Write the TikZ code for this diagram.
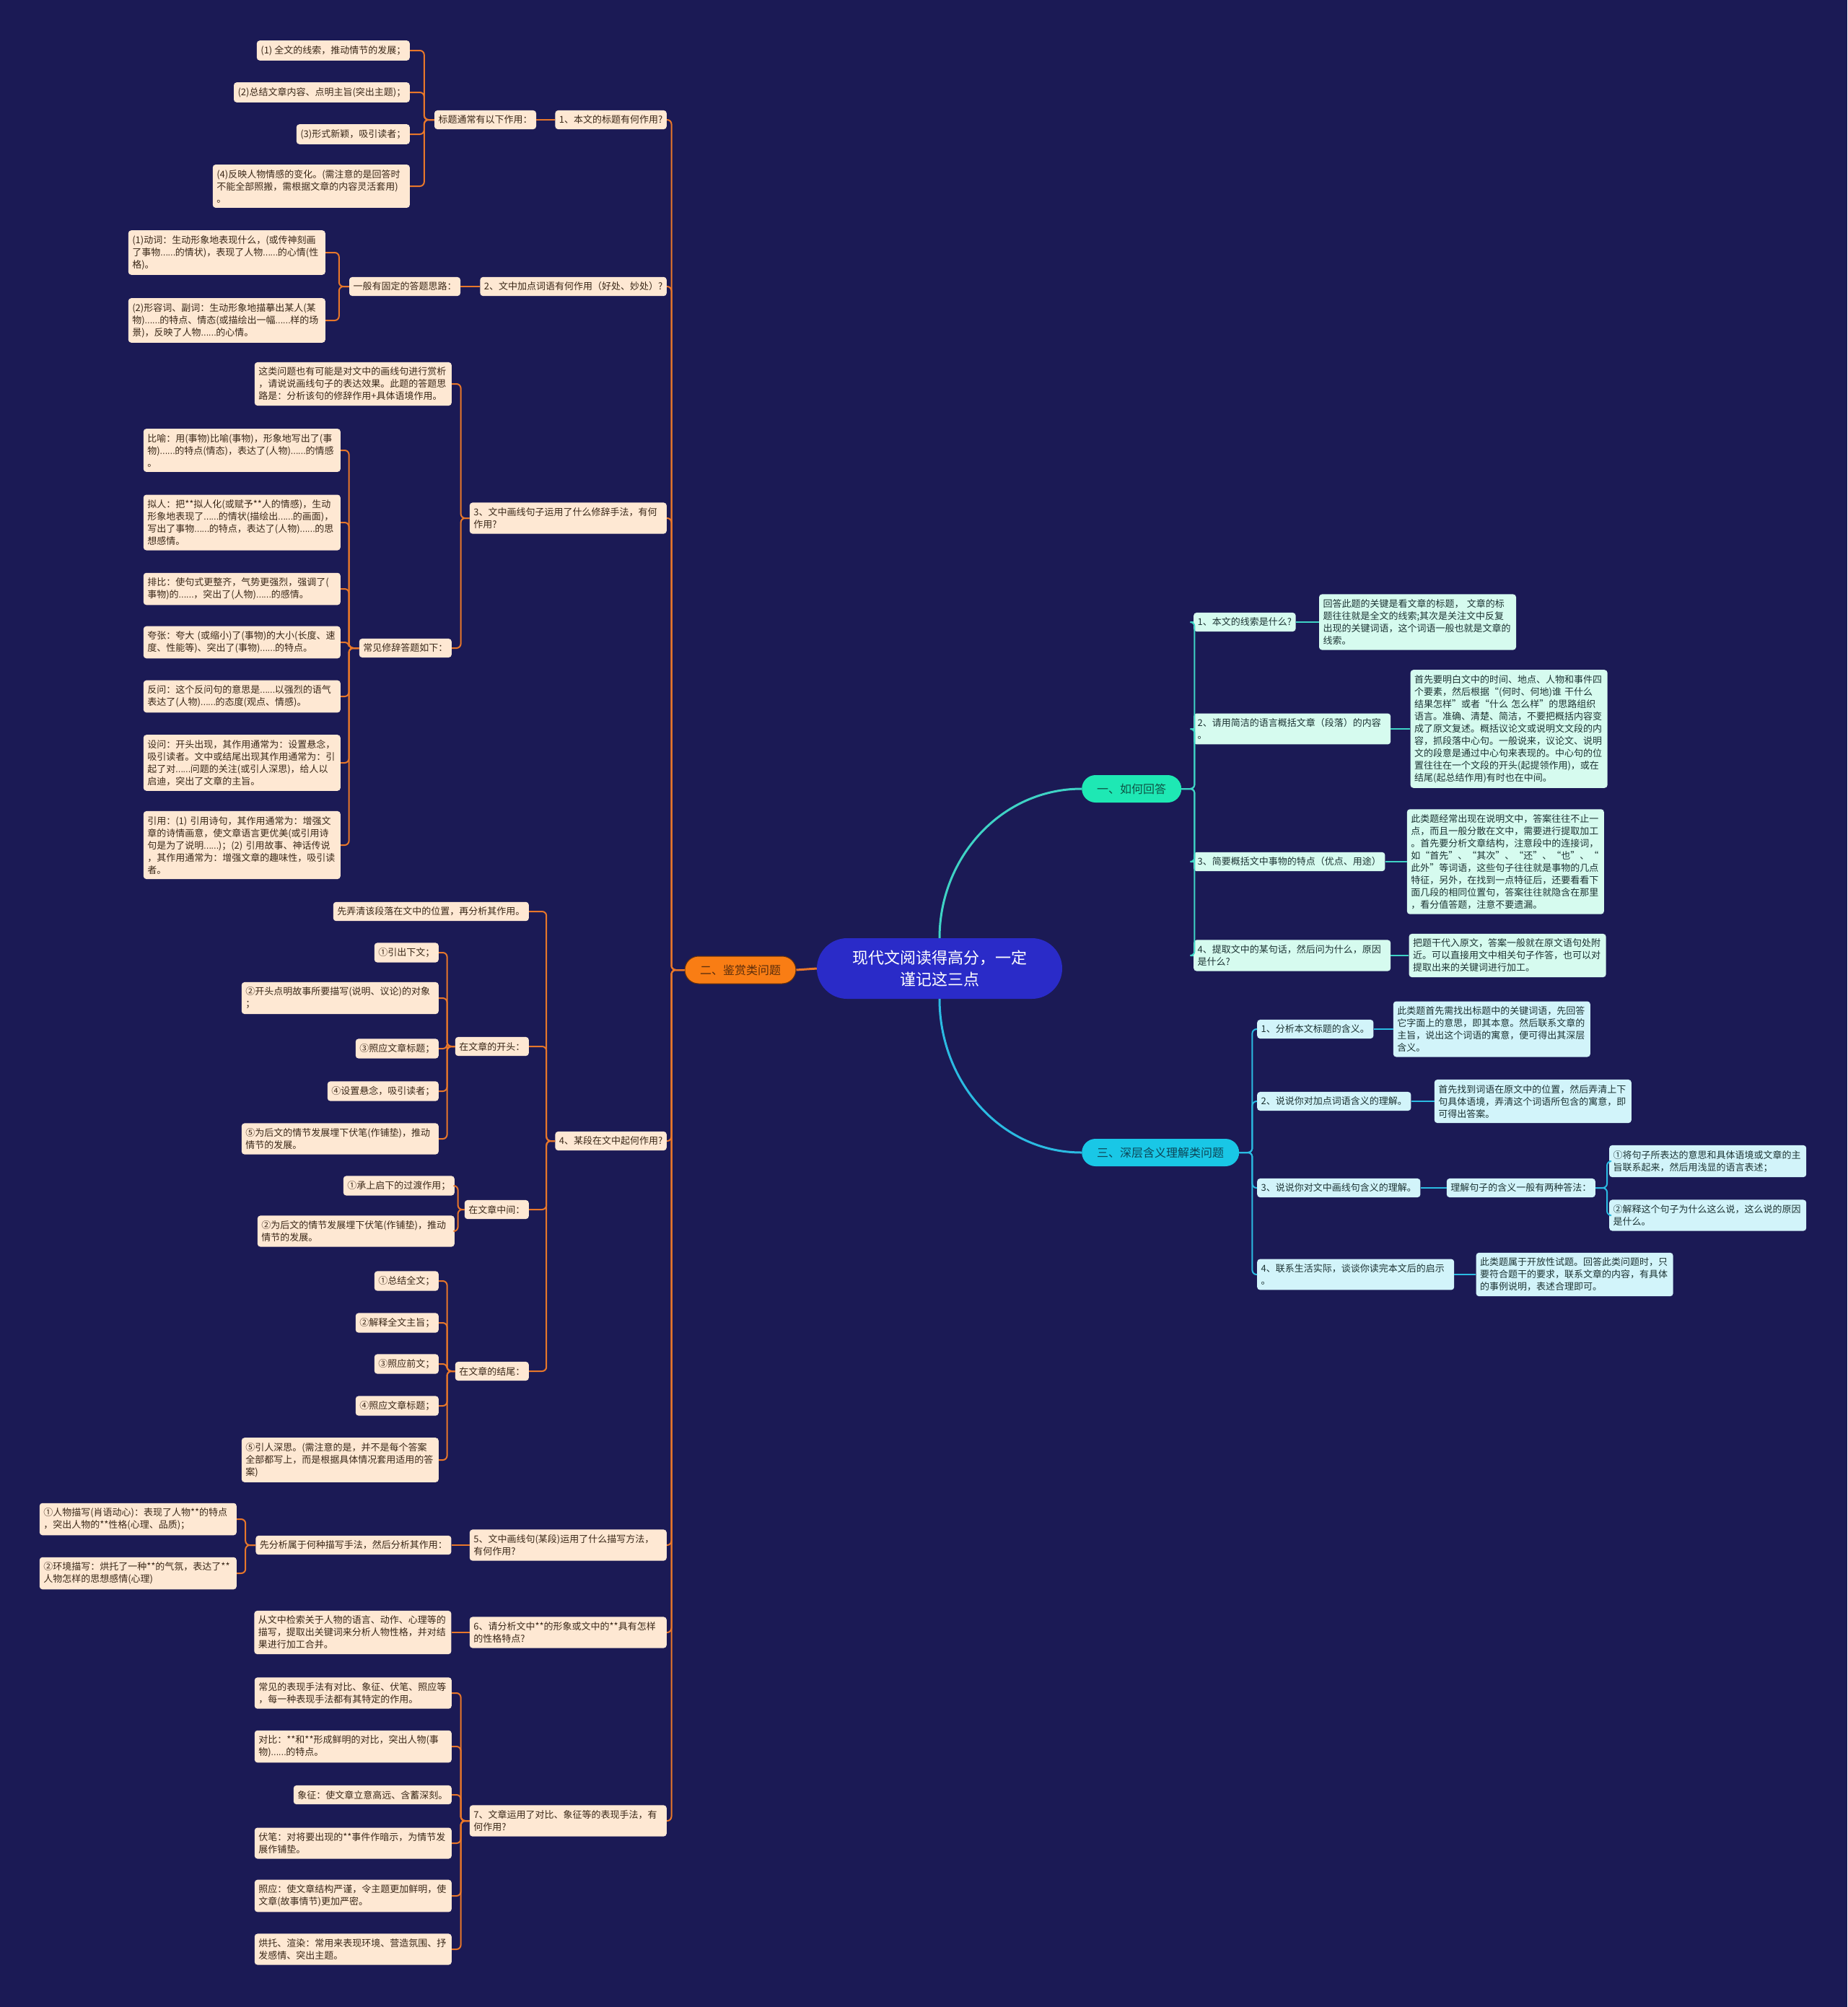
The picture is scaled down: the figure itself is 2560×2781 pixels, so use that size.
\documentclass[tikz,border=0pt]{standalone}
\usepackage{fontspec}
\setmainfont{Noto Sans CJK SC}
\usepackage{xcolor}
\usepackage{graphicx}
\usetikzlibrary{positioning}

\definecolor{bgnavy}{HTML}{1B1A55}
\definecolor{rootfill}{HTML}{2A2BC8}
\definecolor{orgfill}{HTML}{F97D14}
\definecolor{orgedge}{HTML}{6A3208}
\definecolor{orgtx}{HTML}{5A2D0C}
\definecolor{orgln}{HTML}{E8772A}
\definecolor{peach}{HTML}{FEE8D3}
\definecolor{leaftx}{HTML}{3A2818}
\definecolor{mintfill}{HTML}{1EE8B4}
\definecolor{minttx}{HTML}{0E5546}
\definecolor{mintln}{HTML}{3FD3C5}
\definecolor{mintleaf}{HTML}{D6FBEF}
\definecolor{cyanfill}{HTML}{19C7E6}
\definecolor{cyantx}{HTML}{0D4658}
\definecolor{cyanln}{HTML}{2BBBE2}
\definecolor{cyanleaf}{HTML}{D2F4FA}
\definecolor{righttx}{HTML}{1C3333}

% narrow ellipsis
\newcommand{\eli}{\scalebox{0.75}[1]{……}}

\tikzset{
  lk/.style={rounded corners=6pt, to path={-- ++(-#1,0) |- (\tikztotarget)}},
  lk/.default=14pt,
  rk/.style={rounded corners=6pt, to path={-- ++(#1,0) |- (\tikztotarget)}},
  rk/.default=18pt,
  leaf/.style={rounded corners=4pt, inner xsep=5.5pt, inner ysep=7pt, align=left,
    font=\fontsize{13}{17}\selectfont},
  wide/.style={text width=262pt},
  ll/.style={leaf, fill=peach, text=leaftx, anchor=east},
  rl/.style={leaf, fill=mintleaf, text=righttx, anchor=west},
  cl/.style={leaf, fill=cyanleaf, text=righttx, anchor=west},
  lvone/.style={rounded corners=19pt, minimum height=38pt, inner xsep=21pt,
    font=\fontsize{16}{20}\selectfont},
  root/.style={fill=rootfill, text=white, rounded corners=42pt, minimum width=340pt,
    minimum height=84pt, align=center, font=\fontsize{22}{30}\selectfont},
  oln/.style={draw=orgln, line width=2pt},
  mln/.style={draw=mintln, line width=2pt},
  cln/.style={draw=cyanln, line width=2pt},
}

\begin{document}
\begin{tikzpicture}[x=1pt,y=-1pt]
\fill[bgnavy] (0,0) rectangle (2560,2781);
\useasboundingbox (0,0) rectangle (2560,2781);

% centre and first level
\node[root] (root) at (1302,1342) {现代文阅读得高分，一定\\谨记这三点};
\node[lvone, fill=mintfill, text=minttx, anchor=west] (one) at (1499,1093) {一、如何回答};
\node[lvone, fill=orgfill, text=orgtx, draw=orgedge, line width=1pt] (two) at (1026,1344) {二、鉴赏类问题};
\node[lvone, fill=cyanfill, text=cyantx, anchor=west] (three) at (1499,1597) {三、深层含义理解类问题};

% 二 questions
\node[ll] (q1) at (924,166) {1、本文的标题有何作用?};
\node[ll] (q2) at (924,397) {2、文中加点词语有何作用（好处、妙处）?};
\node[ll, wide] (q3) at (924,718) {3、文中画线句子运用了什么修辞手法，有何\\作用?};
\node[ll] (q4) at (924,1581) {4、某段在文中起何作用?};
\node[ll, wide] (q5) at (924,2141) {5、文中画线句(某段)运用了什么描写方法，\\有何作用?};
\node[ll, wide] (q6) at (924,2262) {6、请分析文中**的形象或文中的**具有怎样\\的性格特点?};
\node[ll, wide] (q7) at (924,2523) {7、文章运用了对比、象征等的表现手法，有\\何作用?};

% q1
\node[ll, left=26pt of q1] (t0) {标题通常有以下作用：};
\node[ll] (t1) at (568,70) {(1) 全文的线索，推动情节的发展；};
\node[ll] (t2) at (568,128) {(2)总结文章内容、点明主旨(突出主题)；};
\node[ll] (t3) at (568,186) {(3)形式新颖，吸引读者；};
\node[ll, wide] (t4) at (568,258) {(4)反映人物情感的变化。(需注意的是回答时\\不能全部照搬，需根据文章的内容灵活套用)\\。};

% q2
\node[ll, left=27pt of q2] (g0) {一般有固定的答题思路：};
\node[ll, wide] (g1) at (451,350) {(1)动词：生动形象地表现什么，(或传神刻画\\了事物\eli 的情状)，表现了人物\eli 的心情(性\\格)。};
\node[ll, wide] (g2) at (451,444) {(2)形容词、副词：生动形象地描摹出某人(某\\物)\eli 的特点、情态(或描绘出一幅\eli 样的场\\景)，反映了人物\eli 的心情。};

% q3
\node[ll, wide] (x0) at (626,532) {这类问题也有可能是对文中的画线句进行赏析\\，请说说画线句子的表达效果。此题的答题思\\路是：分析该句的修辞作用+具体语境作用。};
\node[ll] (x1) at (626,898) {常见修辞答题如下：};
\node[ll, wide] (x2) at (472,624) {比喻：用(事物)比喻(事物)，形象地写出了(事\\物)\eli 的特点(情态)，表达了(人物)\eli 的情感\\。};
\node[ll, wide] (x3) at (472,724) {拟人：把**拟人化(或赋予**人的情感)，生动\\形象地表现了\eli 的情状(描绘出\eli 的画面)，\\写出了事物\eli 的特点，表达了(人物)\eli 的思\\想感情。};
\node[ll, wide] (x4) at (472,816) {排比：使句式更整齐，气势更强烈，强调了(\\事物)的\eli ，突出了(人物)\eli 的感情。};
\node[ll, wide] (x5) at (472,890) {夸张：夸大 (或缩小)了(事物)的大小(长度、速\\度、性能等)、突出了(事物)\eli 的特点。};
\node[ll, wide] (x6) at (472,965) {反问：这个反问句的意思是\eli 以强烈的语气\\表达了(人物)\eli 的态度(观点、情感)。};
\node[ll, wide] (x7) at (472,1057) {设问：开头出现，其作用通常为：设置悬念，\\吸引读者。文中或结尾出现其作用通常为：引\\起了对\eli 问题的关注(或引人深思)，给人以\\启迪，突出了文章的主旨。};
\node[ll, wide] (x8) at (472,1171) {引用：(1) 引用诗句，其作用通常为：增强文\\章的诗情画意，使文章语言更优美(或引用诗\\句是为了说明\eli )；(2) 引用故事、神话传说\\，其作用通常为：增强文章的趣味性，吸引读\\者。};

% q4
\node[ll] (p0) at (733,1263) {先弄清该段落在文中的位置，再分析其作用。};
\node[ll] (p1) at (733,1450) {在文章的开头：};
\node[ll] (p2) at (733,1676) {在文章中间：};
\node[ll] (p3) at (733,1900) {在文章的结尾：};
\node[ll] (k1) at (608,1320) {①引出下文；};
\node[ll, wide] (k2) at (608,1383) {②开头点明故事所要描写(说明、议论)的对象\\；};
\node[ll] (k3) at (608,1453) {③照应文章标题；};
\node[ll] (k4) at (608,1512) {④设置悬念，吸引读者；};
\node[ll, wide] (k5) at (608,1578) {⑤为后文的情节发展埋下伏笔(作铺垫)，推动\\情节的发展。};
\node[ll] (m1) at (630,1643) {①承上启下的过渡作用；};
\node[ll, wide] (m2) at (630,1706) {②为后文的情节发展埋下伏笔(作铺垫)，推动\\情节的发展。};
\node[ll] (e1) at (608,1775) {①总结全文；};
\node[ll] (e2) at (608,1833) {②解释全文主旨；};
\node[ll] (e3) at (608,1890) {③照应前文；};
\node[ll] (e4) at (608,1948) {④照应文章标题；};
\node[ll, wide] (e5) at (608,2023) {⑤引人深思。(需注意的是，并不是每个答案\\全部都写上，而是根据具体情况套用适用的答\\案)};

% q5, q6
\node[ll, left=25pt of q5] (d0) {先分析属于何种描写手法，然后分析其作用：};
\node[ll, wide] (d1) at (328,2105) {①人物描写(肖语动心)：表现了人物**的特点\\，突出人物的**性格(心理、品质)；};
\node[ll, wide] (d2) at (328,2180) {②环境描写：烘托了一种**的气氛，表达了**\\人物怎样的思想感情(心理)};
\node[ll, wide, left=25pt of q6] (c0) {从文中检索关于人物的语言、动作、心理等的\\描写，提取出关键词来分析人物性格，并对结\\果进行加工合并。};

% q7
\node[ll, wide] (h1) at (626,2346) {常见的表现手法有对比、象征、伏笔、照应等\\，每一种表现手法都有其特定的作用。};
\node[ll, wide] (h2) at (626,2420) {对比：**和**形成鲜明的对比，突出人物(事\\物)\eli 的特点。};
\node[ll] (h3) at (626,2487) {象征：使文章立意高远、含蓄深刻。};
\node[ll, wide] (h4) at (626,2554) {伏笔：对将要出现的**事件作暗示，为情节发\\展作铺垫。};
\node[ll, wide] (h5) at (626,2627) {照应：使文章结构严谨，令主题更加鲜明，使\\文章(故事情节)更加严密。};
\node[ll, wide] (h6) at (626,2701) {烘托、渲染：常用来表现环境、营造氛围、抒\\发感情、突出主题。};

% 一 branch
\node[rl] (r1) at (1654,862) {1、本文的线索是什么?};
\node[rl, wide] (r2) at (1654,1010) {2、请用简洁的语言概括文章（段落）的内容\\。};
\node[rl] (r3) at (1654,1194) {3、简要概括文中事物的特点（优点、用途）};
\node[rl, wide] (r4) at (1654,1324) {4、提取文中的某句话，然后问为什么，原因\\是什么?};
\node[rl, wide, right=32pt of r1] (a1) {回答此题的关键是看文章的标题， 文章的标\\题往往就是全文的线索;其次是关注文中反复\\出现的关键词语，这个词语一般也就是文章的\\线索。};
\node[rl, wide, right=27pt of r2] (a2) {首先要明白文中的时间、地点、人物和事件四\\个要素，然后根据“(何时、何地)谁 干什么\\结果怎样”或者“什么 怎么样”的思路组织\\语言。准确、清楚、简洁，不要把概括内容变\\成了原文复述。概括议论文或说明文文段的内\\容，抓段落中心句。一般说来，议论文、说明\\文的段意是通过中心句来表现的。中心句的位\\置往往在一个文段的开头(起提领作用)，或在\\结尾(起总结作用)有时也在中间。};
\node[rl, wide, right=30pt of r3] (a3) {此类题经常出现在说明文中，答案往往不止一\\点，而且一般分散在文中，需要进行提取加工\\。首先要分析文章结构，注意段中的连接词，\\如“首先”、“其次”、“还”、“也”、“\\此外”等词语，这些句子往往就是事物的几点\\特征，另外，在找到一点特征后，还要看看下\\面几段的相同位置句，答案往往就隐含在那里\\，看分值答题，注意不要遗漏。};
\node[rl, wide, right=25pt of r4] (a4) {把题干代入原文，答案一般就在原文语句处附\\近。可以直接用文中相关句子作答，也可以对\\提取出来的关键词进行加工。};

% 三 branch
\node[cl] (s1) at (1742,1426) {1、分析本文标题的含义。};
\node[cl] (s2) at (1742,1526) {2、说说你对加点词语含义的理解。};
\node[cl] (s3) at (1742,1646) {3、说说你对文中画线句含义的理解。};
\node[cl, wide] (s4) at (1742,1766) {4、联系生活实际，谈谈你读完本文后的启示\\。};
\node[cl, wide, right=27pt of s1] (u1) {此类题首先需找出标题中的关键词语，先回答\\它字面上的意思，即其本意。然后联系文章的\\主旨，说出这个词语的寓意，便可得出其深层\\含义。};
\node[cl, wide, right=32pt of s2] (u2) {首先找到词语在原文中的位置，然后弄清上下\\句具体语境，弄清这个词语所包含的寓意，即\\可得出答案。};
\node[cl, right=36pt of s3] (u3) {理解句子的含义一般有两种答法：};
\node[cl, wide] (v1) at (2230,1609) {①将句子所表达的意思和具体语境或文章的主\\旨联系起来，然后用浅显的语言表述；};
\node[cl, wide] (v2) at (2230,1684) {②解释这个句子为什么这么说，这么说的原因\\是什么。};
\node[cl, wide, right=30pt of s4] (u4) {此类题属于开放性试题。回答此类问题时，只\\要符合题干的要求，联系文章的内容，有具体\\的事例说明，表述合理即可。};

% connectors
\draw[line width=3pt, mintln] (root.north) to[out=90, in=180] (one.west);
\draw[line width=3pt, cyanln] (root.south) to[out=-90, in=180] (three.west);
\draw[line width=3pt, orgln] (root.west) -- (two.east);

\draw[oln] (two.west) edge[lk=18pt] (q1.east) edge[lk=18pt] (q2.east) edge[lk=18pt] (q3.east)
  edge[lk=18pt] (q4.east) edge[lk=18pt] (q5.east) edge[lk=18pt] (q6.east) edge[lk=18pt] (q7.east);
\draw[oln] (q1) -- (t0);
\draw[oln] (t0.west) edge[lk] (t1.east) edge[lk] (t2.east) edge[lk] (t3.east) edge[lk] (t4.east);
\draw[oln] (q2) -- (g0);
\draw[oln] (g0.west) edge[lk] (g1.east) edge[lk] (g2.east);
\draw[oln] (q3.west) edge[lk=12pt] (x0.east) edge[lk=12pt] (x1.east);
\draw[oln] (x1.west) edge[lk] (x2.east) edge[lk] (x3.east) edge[lk] (x4.east) edge[lk] (x5.east)
  edge[lk] (x6.east) edge[lk] (x7.east) edge[lk] (x8.east);
\draw[oln] (q4.west) edge[lk=12pt] (p0.east) edge[lk=12pt] (p1.east) edge[lk=12pt] (p2.east) edge[lk=12pt] (p3.east);
\draw[oln] (p1.west) edge[lk=11pt] (k1.east) edge[lk=11pt] (k2.east) edge[lk=11pt] (k3.east)
  edge[lk=11pt] (k4.east) edge[lk=11pt] (k5.east);
\draw[oln] (p2.west) edge[lk=9pt] (m1.east) edge[lk=9pt] (m2.east);
\draw[oln] (p3.west) edge[lk=11pt] (e1.east) edge[lk=11pt] (e2.east) edge[lk=11pt] (e3.east)
  edge[lk=11pt] (e4.east) edge[lk=11pt] (e5.east);
\draw[oln] (q5) -- (d0);
\draw[oln] (d0.west) edge[lk] (d1.east) edge[lk] (d2.east);
\draw[oln] (q6) -- (c0);
\draw[oln] (q7.west) edge[lk=12pt] (h1.east) edge[lk=12pt] (h2.east) edge[lk=12pt] (h3.east)
  edge[lk=12pt] (h4.east) edge[lk=12pt] (h5.east) edge[lk=12pt] (h6.east);

\draw[mln] (one.east) edge[rk] (r1.west) edge[rk] (r2.west) edge[rk] (r3.west) edge[rk] (r4.west);
\draw[mln] (r1) -- (a1) (r2) -- (a2) (r3) -- (a3) (r4) -- (a4);

\draw[cln] (three.east) edge[rk] (s1.west) edge[rk] (s2.west) edge[rk] (s3.west) edge[rk] (s4.west);
\draw[cln] (s1) -- (u1) (s2) -- (u2) (s3) -- (u3) (s4) -- (u4);
\draw[cln] (u3.east) edge[rk=16pt] (v1.west) edge[rk=16pt] (v2.west);
\end{tikzpicture}
\end{document}
